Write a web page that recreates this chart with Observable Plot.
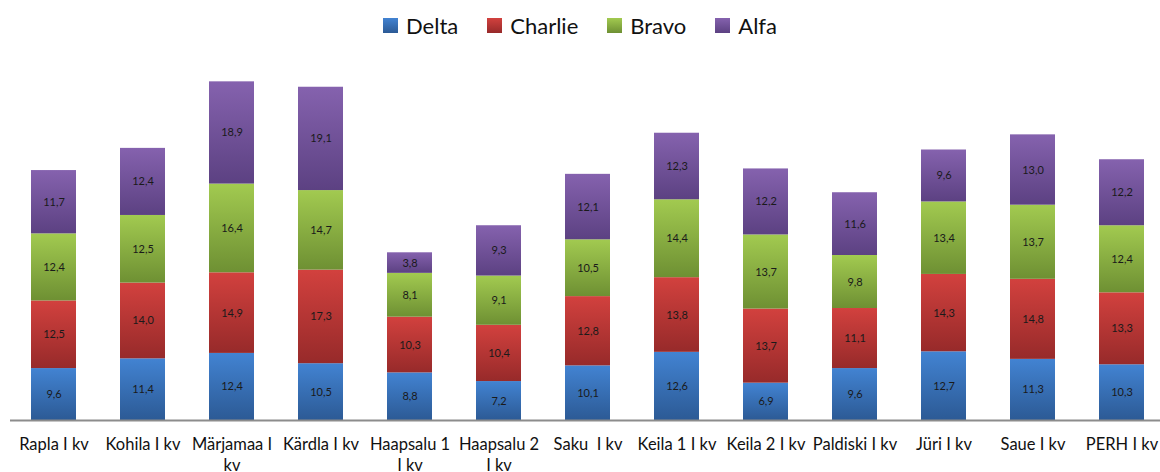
<!DOCTYPE html>
<html>
<head>
<meta charset="utf-8">
<script src="https://cdn.jsdelivr.net/npm/d3@7"></script>
<script src="https://cdn.jsdelivr.net/npm/@observablehq/plot@0.6"></script>
<style>
  html, body { margin: 0; padding: 0; background: #fff; }
  body { width: 1160px; height: 472px; overflow: hidden; font-family: Lato, "Open Sans", sans-serif; }
  #legend { height: 50px; display: flex; justify-content: center; align-items: center; gap: 29px; font-size: 22px; color: #111; padding-left: 0px; }
  #legend .item { display: flex; align-items: center; gap: 8px; }
  #legend .sw { width: 15px; height: 15px; display: inline-block; }
  #chart svg { display: block; overflow: visible; }
</style>
</head>
<body>
<div id="legend"></div>
<div id="chart"></div>
<script>
const categories = ["Rapla I kv", "Kohila I kv", "Märjamaa I kv", "Kärdla I kv", "Haapsalu 1 I kv", "Haapsalu 2 I kv", "Saku  I kv", "Keila 1 I kv", "Keila 2 I kv", "Paldiski I kv", "Jüri I kv", "Saue I kv", "PERH I kv"];
const tickLabels = ["Rapla I kv", "Kohila I kv", "Märjamaa I\nkv", "Kärdla I kv", "Haapsalu 1\nI kv", "Haapsalu 2\nI kv", "Saku  I kv", "Keila 1 I kv", "Keila 2 I kv", "Paldiski I kv", "Jüri I kv", "Saue I kv", "PERH I kv"];
const series = ["Delta", "Charlie", "Bravo", "Alfa"];
const delta   = [9.6, 11.4, 12.4, 10.5, 8.8, 7.2, 10.1, 12.6, 6.9, 9.6, 12.7, 11.3, 10.3];
const charlie = [12.5, 14.0, 14.9, 17.3, 10.3, 10.4, 12.8, 13.8, 13.7, 11.1, 14.3, 14.8, 13.3];
const bravo   = [12.4, 12.5, 16.4, 14.7, 8.1, 9.1, 10.5, 14.4, 13.7, 9.8, 13.4, 13.7, 12.4];
const alfa    = [11.7, 12.4, 18.9, 19.1, 3.8, 9.3, 12.1, 12.3, 12.2, 11.6, 9.6, 13.0, 12.2];

const seriesValues = {Delta: delta, Charlie: charlie, Bravo: bravo, Alfa: alfa};
const gradStops = {
  Delta:   ["#4283d2", "#2c5a95"],
  Charlie: ["#d2413e", "#972a2a"],
  Bravo:   ["#a2ca50", "#6e9033"],
  Alfa:    ["#8562ae", "#5c4182"]
};

const data = [];
series.forEach(s => categories.forEach((c, i) => data.push({cat: c, series: s, value: seriesValues[s][i]})));

// legend
const legend = document.getElementById("legend");
series.forEach(s => {
  const it = document.createElement("div");
  it.className = "item";
  it.innerHTML = `<span class="sw" style="background:linear-gradient(${gradStops[s][0]},${gradStops[s][1]})"></span><span>${s}</span>`;
  legend.appendChild(it);
});

const fmt = v => v.toFixed(1).replace(".", ",");
const base = 370;
const pxPerUnit = 5.41;

const plot = Plot.plot({
  width: 1160,
  height: 422,
  marginLeft: 10, marginRight: 0, marginTop: 0, marginBottom: 52,
  style: {fontFamily: "Lato, 'Open Sans', sans-serif", background: "transparent", overflow: "visible"},
  x: {domain: categories, range: [9, 1167], paddingInner: 0.49, paddingOuter: 0.245, axis: null},
  y: {domain: [0, 65], range: [base, base - 65 * pxPerUnit], axis: null},
  color: {domain: series, range: series.map(s => `url(#grad-${s})`)},
  marks: [
    Plot.barY(data, Plot.stackY({x: "cat", y: "value", z: "series", order: series, fill: "series"})),
    Plot.text(data, Plot.stackY({x: "cat", y: "value", z: "series", order: series, text: d => fmt(d.value), fill: "#1a1a1a", fontSize: 11})),
    Plot.ruleY([0], {stroke: "#8c8c8c", strokeWidth: 2}),
    Plot.axisX({tickSize: 0, tickPadding: 15, fontSize: 16.5, lineHeight: 1.27, fill: "#111", label: null, tickFormat: (d) => tickLabels[categories.indexOf(d)]})
  ]
});

const defs = d3.select(plot).insert("defs", ":first-child");
series.forEach(s => {
  const g = defs.append("linearGradient").attr("id", `grad-${s}`).attr("x1", 0).attr("y1", 0).attr("x2", 0).attr("y2", 1);
  g.append("stop").attr("offset", "0%").attr("stop-color", gradStops[s][0]);
  g.append("stop").attr("offset", "100%").attr("stop-color", gradStops[s][1]);
});
document.getElementById("chart").appendChild(plot);
</script>
</body>
</html>
